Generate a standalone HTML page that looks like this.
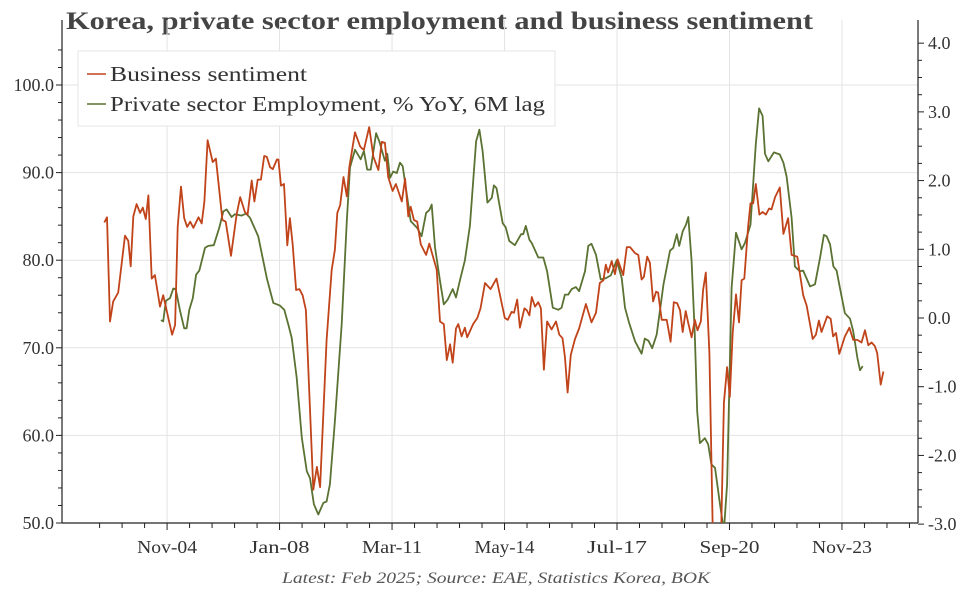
<!DOCTYPE html>
<html><head><meta charset="utf-8">
<style>
body{margin:0;background:#fff;}
svg{display:block;font-family:"Liberation Serif",serif;}
</style></head>
<body>
<svg id="chart" width="972" height="589" viewBox="0 0 972 589" xmlns="http://www.w3.org/2000/svg">
<text x="66" y="29" font-size="25" font-weight="bold" fill="#444" textLength="747" lengthAdjust="spacingAndGlyphs">Korea, private sector employment and business sentiment</text>
<g id="grid"></g>
<g id="axes"></g>
<defs><clipPath id="clip"><rect x="62" y="20" width="856" height="503"/></clipPath></defs>
<g id="series" clip-path="url(#clip)"></g>
<g>
<rect x="78" y="51" width="477" height="75" fill="#fff" stroke="#e6e6e6"/>
<line x1="87" y1="74" x2="106" y2="74" stroke="#c0431a" stroke-width="1.5"/>
<text x="110" y="81" font-size="21" fill="#333" textLength="197" lengthAdjust="spacingAndGlyphs">Business sentiment</text>
<line x1="87" y1="104" x2="106" y2="104" stroke="#5a7232" stroke-width="1.5"/>
<text x="110" y="111" font-size="21" fill="#333" textLength="435" lengthAdjust="spacingAndGlyphs">Private sector Employment, % YoY, 6M lag</text>
</g>
<text x="496" y="583" font-size="16" font-style="italic" fill="#555" text-anchor="middle" textLength="428" lengthAdjust="spacingAndGlyphs">Latest: Feb 2025; Source: EAE, Statistics Korea, BOK</text>
</svg>
<script>
// months since Jan 2003
const bizMonths=[1.8,2.7,3.7,4.8,6.5,8.8,9.9,10.7,11.6,12.7,13.9,14.8,15.8,16.7,17.8,18.9,20.6,21.7,24.7,25.7,26.6,27.7,28.8,29.8,30.8,31.9,33.6,34.7,35.6,36.7,38.4,39.5,41.7,42.8,44.6,46.5,47.7,49.3,50.2,51.6,52.5,53.6,54.7,55.8,56.7,57.8,58.7,60.1,60.6,61.5,62.5,63.6,64.5,65.4,66.6,67.7,68.8,69.9,72.4,73.6,74.7,76.9,78.6,79.7,80.5,81.5,82.6,83.7,84.6,86.5,88.2,88.7,89.5,91.3,92.7,94.4,95.5,96.6,97.7,99.2,100.3,102.3,103.4,104.5,105.3,106.4,107.5,108.7,110.5,111.6,114.1,115.2,116.5,117.5,118.6,119.5,120.6,121.4,122.5,123.6,124.4,126.4,127.8,128.9,130.4,132.3,134.3,137.1,138.1,139.4,140.2,141.3,142.2,143.7,144.5,145.4,146.2,147.3,148.4,149.3,150.3,151.4,152.9,154.4,155.5,156.6,157.4,158.3,159.4,160.8,162.2,164.5,166.4,167.9,169.2,170.4,171.2,172.0,173.2,174.3,175.2,177.1,178.3,179.4,181.1,182.2,183.3,184.1,185.2,186.1,187.2,188.2,188.9,190.1,191.8,193.1,194.2,195.3,196.3,197.2,198.2,199.1,200.2,201.3,202.2,203.3,204.1,205.0,206.2,207.3,208.7,210.0,211.1,212.2,213.1,214.1,215.2,216.2,217.1,218.0,219.3,220.1,221.0,221.9,223.1,224.2,225.3,226.4,227.2,228.4,230.0,231.2,232.8,234.0,235.9,237.9,239.1,241.1,242.2,243.2,244.1,246.0,247.2,248.0,249.0,250.1,252.0,253.5,254.8,256.2,257.6,258.8,259.9,261.0,262.1,262.9,264.1,265.0];
const bizValues=[84.3,84.9,73.0,75.3,76.3,82.8,82.2,79.3,85.0,86.4,85.4,86.0,84.7,87.4,77.9,78.3,74.7,76.0,71.5,72.6,83.8,88.4,84.8,83.8,84.4,83.7,84.9,84.2,86.7,93.7,91.2,91.6,84.6,84.4,80.5,85.2,87.2,85.5,85.2,89.1,86.7,89.2,89.2,91.9,91.8,90.6,90.4,91.5,91.5,88.5,88.7,81.7,84.8,81.9,76.6,76.7,76.0,74.3,53.8,56.4,54.1,70.9,78.9,81.2,85.4,86.3,89.5,87.3,90.7,94.6,93.0,92.8,92.6,95.2,91.8,90.3,93.5,93.4,89.5,87.9,88.7,86.7,89.3,85.0,86.1,84.6,84.4,81.8,80.6,81.9,78.9,73.0,72.7,68.6,70.4,68.3,72.2,72.7,71.3,72.3,71.2,72.7,73.4,74.5,77.4,76.7,77.9,73.4,73.2,74.1,74.0,75.5,72.3,74.5,74.3,73.7,75.8,74.7,75.2,74.5,67.5,73.0,72.1,73.0,71.5,71.1,69.0,64.9,69.2,71.0,72.2,75.0,72.9,74.0,77.4,77.7,79.5,78.6,79.9,78.4,80.1,78.3,81.5,81.5,80.8,80.6,77.8,78.1,80.4,79.7,75.3,76.4,76.3,73.2,73.2,70.7,75.2,75.1,74.3,71.8,74.2,72.8,71.2,73.2,72.0,73.0,76.6,78.6,69.4,50.0,46.0,46.0,63.7,67.8,64.4,71.7,76.1,72.9,77.7,77.9,83.8,86.5,86.5,88.7,85.2,85.5,85.2,85.9,85.8,87.2,88.3,83.0,84.8,80.6,80.4,76.0,74.8,71.0,71.5,73.1,71.8,73.6,73.3,71.3,71.7,69.3,71.3,72.3,70.9,70.9,70.6,72.0,70.3,70.6,70.2,69.4,65.8,67.3];
const empMonths=[20.9,21.7,22.6,24.0,25.1,25.9,27.4,28.8,29.6,30.5,31.7,32.8,33.9,35.8,36.9,38.8,40.6,42.0,43.1,44.8,45.9,48.2,49.7,51.0,53.8,56.7,58.9,61.1,62.6,64.0,65.1,66.8,68.5,70.2,71.3,72.6,74.1,75.8,76.9,78.0,79.7,82.0,83.7,84.8,86.5,88.4,89.5,90.6,91.8,93.6,94.7,96.6,97.4,98.3,99.4,100.6,101.7,102.6,105.3,107.5,109.0,110.5,111.6,112.4,113.5,115.2,116.5,117.7,119.5,120.6,121.9,123.6,125.3,127.4,128.5,129.6,131.2,132.7,133.4,134.3,136.4,137.4,138.6,140.5,142.6,143.3,144.2,145.4,146.2,148.4,150.1,151.4,153.3,155.2,156.3,157.4,158.5,159.7,161.1,162.2,164.2,165.3,166.4,167.9,169.5,171.3,172.9,174.9,176.6,177.7,179.1,181.1,183.3,184.4,185.6,186.9,188.4,190.7,192.9,194.0,195.2,196.0,197.2,198.3,199.1,200.2,201.3,202.1,203.0,204.7,205.8,206.9,208.1,209.8,211.1,212.2,213.7,215.2,217.1,218.2,220.1,221.9,223.0,224.2,225.0,226.1,228.0,230.0,231.2,232.3,234.0,235.1,236.8,237.9,240.2,241.9,243.6,244.9,245.8,247.0,248.1,249.2,250.3,252.0,253.7,254.8,256.2,257.1,258.0];
const empValues=[-0.03,-0.05,0.25,0.29,0.43,0.42,0.10,-0.15,-0.15,0.12,0.29,0.63,0.69,1.02,1.05,1.06,1.31,1.55,1.58,1.47,1.51,1.49,1.52,1.46,1.19,0.58,0.22,0.18,0.12,-0.10,-0.29,-0.87,-1.74,-2.23,-2.33,-2.71,-2.86,-2.69,-2.67,-2.42,-1.50,-0.09,1.41,2.19,2.45,2.31,2.43,2.16,2.16,2.69,2.57,2.29,2.39,2.04,2.13,2.11,2.26,2.21,1.41,1.31,1.19,1.53,1.57,1.65,1.03,0.54,0.20,0.26,0.42,0.30,0.54,0.84,1.34,2.57,2.74,2.43,1.68,1.75,1.93,1.89,1.38,1.32,1.12,1.06,1.22,1.22,1.34,1.14,1.09,0.88,0.88,0.68,0.15,0.12,0.15,0.34,0.34,0.42,0.45,0.39,0.68,1.05,1.08,0.92,0.56,0.58,0.62,0.84,0.58,0.15,-0.07,-0.34,-0.52,-0.30,-0.33,-0.44,-0.24,0.49,0.98,1.02,1.22,1.05,1.26,1.36,1.47,0.83,-0.24,-1.36,-1.82,-1.75,-1.84,-2.13,-2.18,-2.71,-3.10,-2.42,0.44,1.24,1.00,1.09,1.36,2.53,3.05,2.94,2.39,2.28,2.41,2.38,2.26,2.06,1.46,0.75,0.68,0.69,0.46,0.49,0.88,1.21,1.19,1.07,0.75,0.69,0.44,0.07,-0.01,-0.19,-0.58,-0.76,-0.70];
const xTickLabels=["Nov-04","Jan-08","Mar-11","May-14","Jul-17","Sep-20","Nov-23"];
const xTickMonths=[23,61,99,137,175,213,251];
const leftTicks=[50,60,70,80,90,100];
const rightTicks=[-3,-2,-1,0,1,2,3,4];

const NS="http://www.w3.org/2000/svg";
const X=m=>99+2.96*m;
const YL=v=>85+(100-v)*8.76;
const YR=v=>318-v*68.71;
const PL=62,PR=918,PT=20,PB=523;
function mk(tag,attrs,parent){const e=document.createElementNS(NS,tag);for(const k in attrs)e.setAttribute(k,attrs[k]);parent.appendChild(e);return e;}
const grid=document.getElementById('grid'),axes=document.getElementById('axes'),series=document.getElementById('series');

leftTicks.forEach(v=>{if(v===50)return;const l=mk('line',{x1:PL,x2:PR,y1:YL(v),y2:YL(v),stroke:'#e3e3e3','stroke-width':1},grid);

});
xTickMonths.forEach(m=>{const l=mk('line',{x1:X(m),x2:X(m),y1:PT,y2:PB,stroke:'#e3e3e3','stroke-width':1},grid);

});

const la=mk('line',{x1:PL,x2:PL,y1:PT,y2:PB,stroke:'#222','stroke-width':1.2},axes);


const ra=mk('line',{x1:PR,x2:PR,y1:PT,y2:PB,stroke:'#222','stroke-width':1.2},axes);


const ba=mk('line',{x1:PL,x2:PR,y1:PB,y2:PB,stroke:'#222','stroke-width':1.2},axes);



for(let v=50;v<=104;v+=2){const major=v%10===0;mk('line',{x1:PL-(major?6:4),x2:PL,y1:YL(v),y2:YL(v),stroke:'#222'},axes);}
leftTicks.forEach(v=>{const t=mk('text',{x:PL-8,y:YL(v)+6,'font-size':18,'text-anchor':'end',fill:'#333'},axes);t.textContent=v.toFixed(1);

});
for(let v=-3;v<=4.01;v+=0.25){mk('line',{x1:PR,x2:PR+(Math.abs(v-Math.round(v))<0.01?6:4),y1:YR(v),y2:YR(v),stroke:'#222'},axes);}
rightTicks.forEach(v=>{const t=mk('text',{x:PR+10,y:YR(v)+6,'font-size':18,fill:'#333'},axes);t.textContent=v.toFixed(1);

});
const step=38/5;
for(let m=23-3*step;X(m)<=PR;m+=step){if(X(m)<PL)continue;const maj=xTickMonths.some(t=>Math.abs(t-m)<0.1);mk('line',{x1:X(m),x2:X(m),y1:PB,y2:PB+(maj?7:5),stroke:'#222'},axes);}
xTickLabels.forEach((s,i)=>{const t=mk('text',{x:X(xTickMonths[i]),y:PB+30,'font-size':18,'text-anchor':'middle',fill:'#333',textLength:60,lengthAdjust:'spacingAndGlyphs'},axes);t.textContent=s;

});

const empPath=mk('path',{d:empMonths.map((m,i)=>(i?'L':'M')+X(m).toFixed(1)+','+YR(empValues[i]).toFixed(1)).join(''),fill:'none',stroke:'#5a7232','stroke-width':1.8,'stroke-linejoin':'round'},series);


const bizPath=mk('path',{d:bizMonths.map((m,i)=>(i?'L':'M')+X(m).toFixed(1)+','+YL(bizValues[i]).toFixed(1)).join(''),fill:'none',stroke:'#c0431a','stroke-width':1.8,'stroke-linejoin':'round'},series);


</script>
</body></html>
